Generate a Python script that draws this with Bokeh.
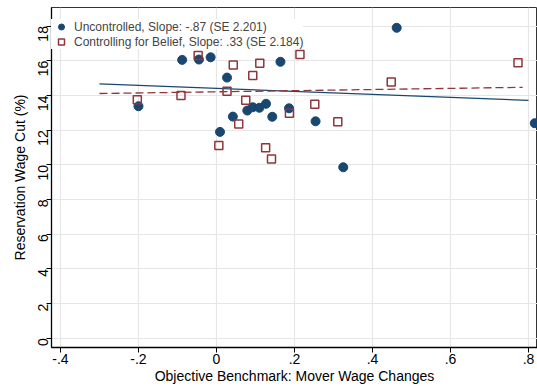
import numpy as np
from bokeh.plotting import figure
from bokeh.models import Range1d, FixedTicker, Legend, LegendItem
from bokeh.embed import file_html
from bokeh.resources import INLINE

# Uncontrolled (blue circles)
unc_x = [-0.200, -0.088, -0.045, -0.015, 0.027, 0.164, 0.042, 0.079, 0.093,
         0.110, 0.127, 0.143, 0.186, 0.254, 0.009, 0.462, 0.325, 0.816]
unc_y = [13.38, 16.05, 16.07, 16.20, 15.03, 15.94, 12.78, 13.13, 13.32,
         13.29, 13.52, 12.77, 13.26, 12.51, 11.90, 17.90, 9.86, 12.40]

# Controlling for belief (maroon hollow squares)
ctl_x = [-0.203, -0.091, -0.047, 0.027, 0.043, 0.075, 0.093, 0.111, 0.214,
         0.187, 0.252, 0.057, 0.311, 0.006, 0.126, 0.141, 0.448, 0.773]
ctl_y = [13.75, 14.00, 16.30, 14.24, 15.76, 13.72, 15.15, 15.86, 16.36,
         12.97, 13.49, 12.36, 12.48, 11.11, 10.98, 10.34, 14.78, 15.88]

# Fitted lines: intercept, slope, x-span
unc_fit = dict(a=14.41, b=-0.87, x0=-0.30, x1=0.80)
ctl_fit = dict(a=14.21, b=0.33, x0=-0.30, x1=0.785)

x_ticks = [-0.4, -0.2, 0.0, 0.2, 0.4, 0.6, 0.8]
x_tick_labels = ["-.4", "-.2", "0", ".2", ".4", ".6", ".8"]
y_ticks = [0, 2, 4, 6, 8, 10, 12, 14, 16, 18]

legend_labels = ["Uncontrolled, Slope: -.87 (SE 2.201)",
                 "Controlling for Belief, Slope: .33 (SE 2.184)"]

NAVY = "#1a476f"
MAROON = "#90353b"
FONT = "Liberation Sans"

p = figure(width=537, height=386, output_backend="svg", toolbar_location=None,
           x_range=Range1d(-0.423, 0.823), y_range=Range1d(-0.53, 19.07),
           min_border_left=51, min_border_right=0, min_border_top=7,
           min_border_bottom=39)
p.background_fill_color = "white"
p.border_fill_color = "white"
p.outline_line_color = "#333333"
p.outline_line_width = 1

for ax in (p.xaxis[0], p.yaxis[0]):
    ax.axis_line_color = "black"
    ax.axis_line_width = 1.3
    ax.major_tick_line_color = "black"
    ax.major_tick_out = 5
    ax.major_tick_in = 0
    ax.minor_tick_line_color = None
    ax.major_label_text_font = FONT
    ax.major_label_text_font_size = "14px"
    ax.major_label_text_color = "black"
    ax.axis_label_text_font = FONT
    ax.axis_label_text_font_size = "14px"
    ax.axis_label_text_font_style = "normal"
    ax.axis_label_text_color = "black"

p.xaxis.ticker = FixedTicker(ticks=x_ticks)
p.xaxis.major_label_overrides = {t: l for t, l in zip(x_ticks, x_tick_labels)}
p.xaxis.axis_label = "Objective Benchmark: Mover Wage Changes"
p.xaxis.axis_label_standoff = 1
p.xaxis.major_label_standoff = 1

p.yaxis.ticker = FixedTicker(ticks=y_ticks)
p.yaxis.major_label_orientation = np.pi / 2
p.yaxis.axis_label = "Reservation Wage Cut (%)"
p.yaxis.axis_label_standoff = 3
p.yaxis.major_label_standoff = 3

p.xgrid.ticker = FixedTicker(ticks=x_ticks)
p.ygrid.ticker = FixedTicker(ticks=y_ticks)
p.grid.grid_line_color = "#e6e6e6"
p.grid.grid_line_width = 1.2

for fit, color, dash in ((unc_fit, NAVY, "solid"), (ctl_fit, MAROON, "8 4")):
    xs = np.array([fit["x0"], fit["x1"]])
    ys = fit["a"] + fit["b"] * xs
    p.line(xs, ys, line_color=color, line_width=1.3, line_dash=dash)

r_unc = p.scatter(unc_x, unc_y, marker="circle", size=9, fill_color=NAVY,
                  line_color=NAVY)
r_ctl = p.scatter(ctl_x, ctl_y, marker="square", size=8, fill_color=None,
                  line_color=MAROON, line_width=1.5)

legend = Legend(items=[LegendItem(label=legend_labels[0], renderers=[r_unc]),
                       LegendItem(label=legend_labels[1], renderers=[r_ctl])],
                location=(0, 298))
legend.margin = 0
legend.padding = 3
legend.spacing = 0
legend.glyph_width = 20
legend.glyph_height = 15
legend.label_height = 15
legend.label_standoff = 3
legend.label_text_font = FONT
legend.label_text_font_size = "12px"
legend.border_line_color = None
legend.background_fill_color = "white"
legend.background_fill_alpha = 1.0
p.add_layout(legend)

open("out.html", "w").write(file_html(p, INLINE))
